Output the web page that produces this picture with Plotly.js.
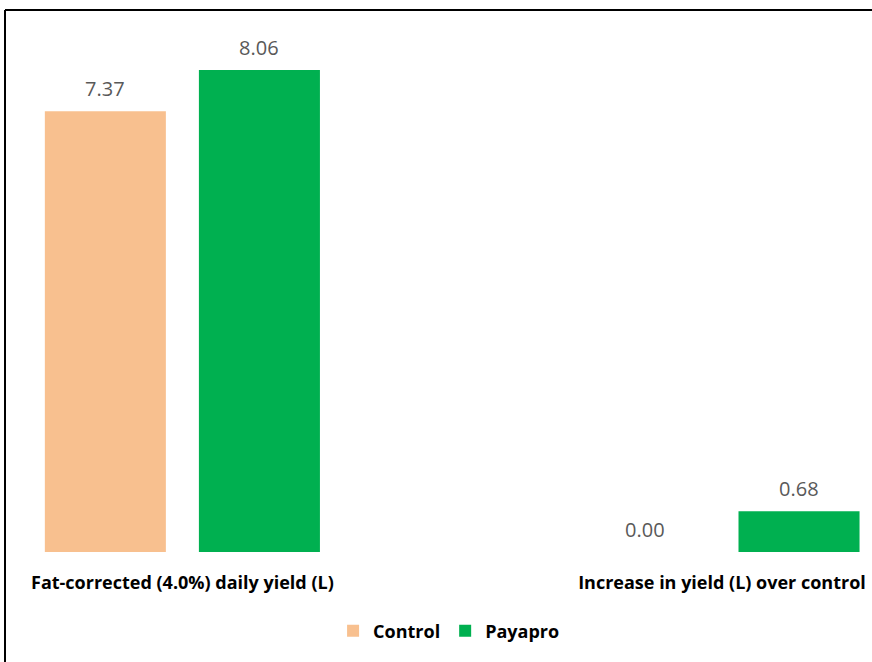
<!DOCTYPE html>
<html>
<head>
<meta charset="utf-8">
<script src="https://cdn.plot.ly/plotly-3.0.1.min.js"></script>
<style>html,body{margin:0;padding:0;background:#fff;}#chart{width:872px;height:662px;}</style>
</head>
<body>
<div id="chart"></div>
<script>
const categories = ["Fat-corrected (4.0%) daily yield (L)", "Increase in yield (L) over control"];
const seriesNames = ["Control", "Payapro"];
const controlValues = [7.37, 0.00];
const payaproValues = [8.06, 0.68];
const seriesColors = ["#F8C08F", "#00B050"];

const catIdx = categories.map((c, i) => i);
const barWidth = 0.2243;
const offsets = [-0.2549, 0.0306];
const seriesValues = [controlValues, payaproValues];

const traces = seriesValues.map((vals, s) => ({
  type: "bar",
  name: seriesNames[s],
  x: catIdx,
  y: vals,
  width: barWidth,
  offset: offsets[s],
  marker: {color: seriesColors[s]},
  hoverinfo: "skip"
}));

const annotations = [];
seriesValues.forEach((vals, s) => {
  vals.forEach((v, i) => {
    annotations.push({
      x: i + offsets[s] + barWidth / 2,
      y: v,
      xref: "x", yref: "y",
      text: v.toFixed(2),
      showarrow: false,
      yanchor: "middle",
      yshift: 23,
      font: {family: "Open Sans, sans-serif", size: 20, color: "#595959"}
    });
  });
});

const H = 662, plotBottom = 552;
const layout = {
  width: 872, height: 662,
  margin: {l: 0, r: 0, t: 0, b: H - plotBottom},
  paper_bgcolor: "#ffffff",
  plot_bgcolor: "#ffffff",
  barmode: "overlay",
  showlegend: true,
  legend: {
    orientation: "h", x: 0.515, xanchor: "center",
    y: -(631 - plotBottom) / plotBottom, yanchor: "middle",
    font: {family: "Open Sans, sans-serif", size: 18, color: "#000", weight: "bold"},
    itemwidth: 30, traceorder: "normal"
  },
  xaxis: {
    range: [-0.338, 1.278],
    tickvals: catIdx,
    ticktext: categories,
    showgrid: false, zeroline: false, showline: false, ticks: "",
    ticklabelstandoff: 18,
    ticklabeloverflow: "allow",
    tickfont: {family: "Open Sans, sans-serif", size: 18, color: "#000", weight: "bold"},
    fixedrange: true
  },
  yaxis: {
    range: [0, plotBottom / 59.8],
    visible: false, showgrid: false, zeroline: false, fixedrange: true
  },
  annotations: annotations,
  shapes: [
    {type: "line", xref: "paper", yref: "paper", x0: 5/872, x1: 1.01, y0: 1 - 10/plotBottom, y1: 1 - 10/plotBottom, line: {color: "#000", width: 2}},
    {type: "line", xref: "paper", yref: "paper", x0: 5/872, x1: 5/872, y0: 1 - 10/plotBottom, y1: -(H - plotBottom + 5)/plotBottom, line: {color: "#000", width: 2}}
  ]
};

Plotly.newPlot("chart", traces, layout, {displayModeBar: false, staticPlot: true});
</script>
</body>
</html>
